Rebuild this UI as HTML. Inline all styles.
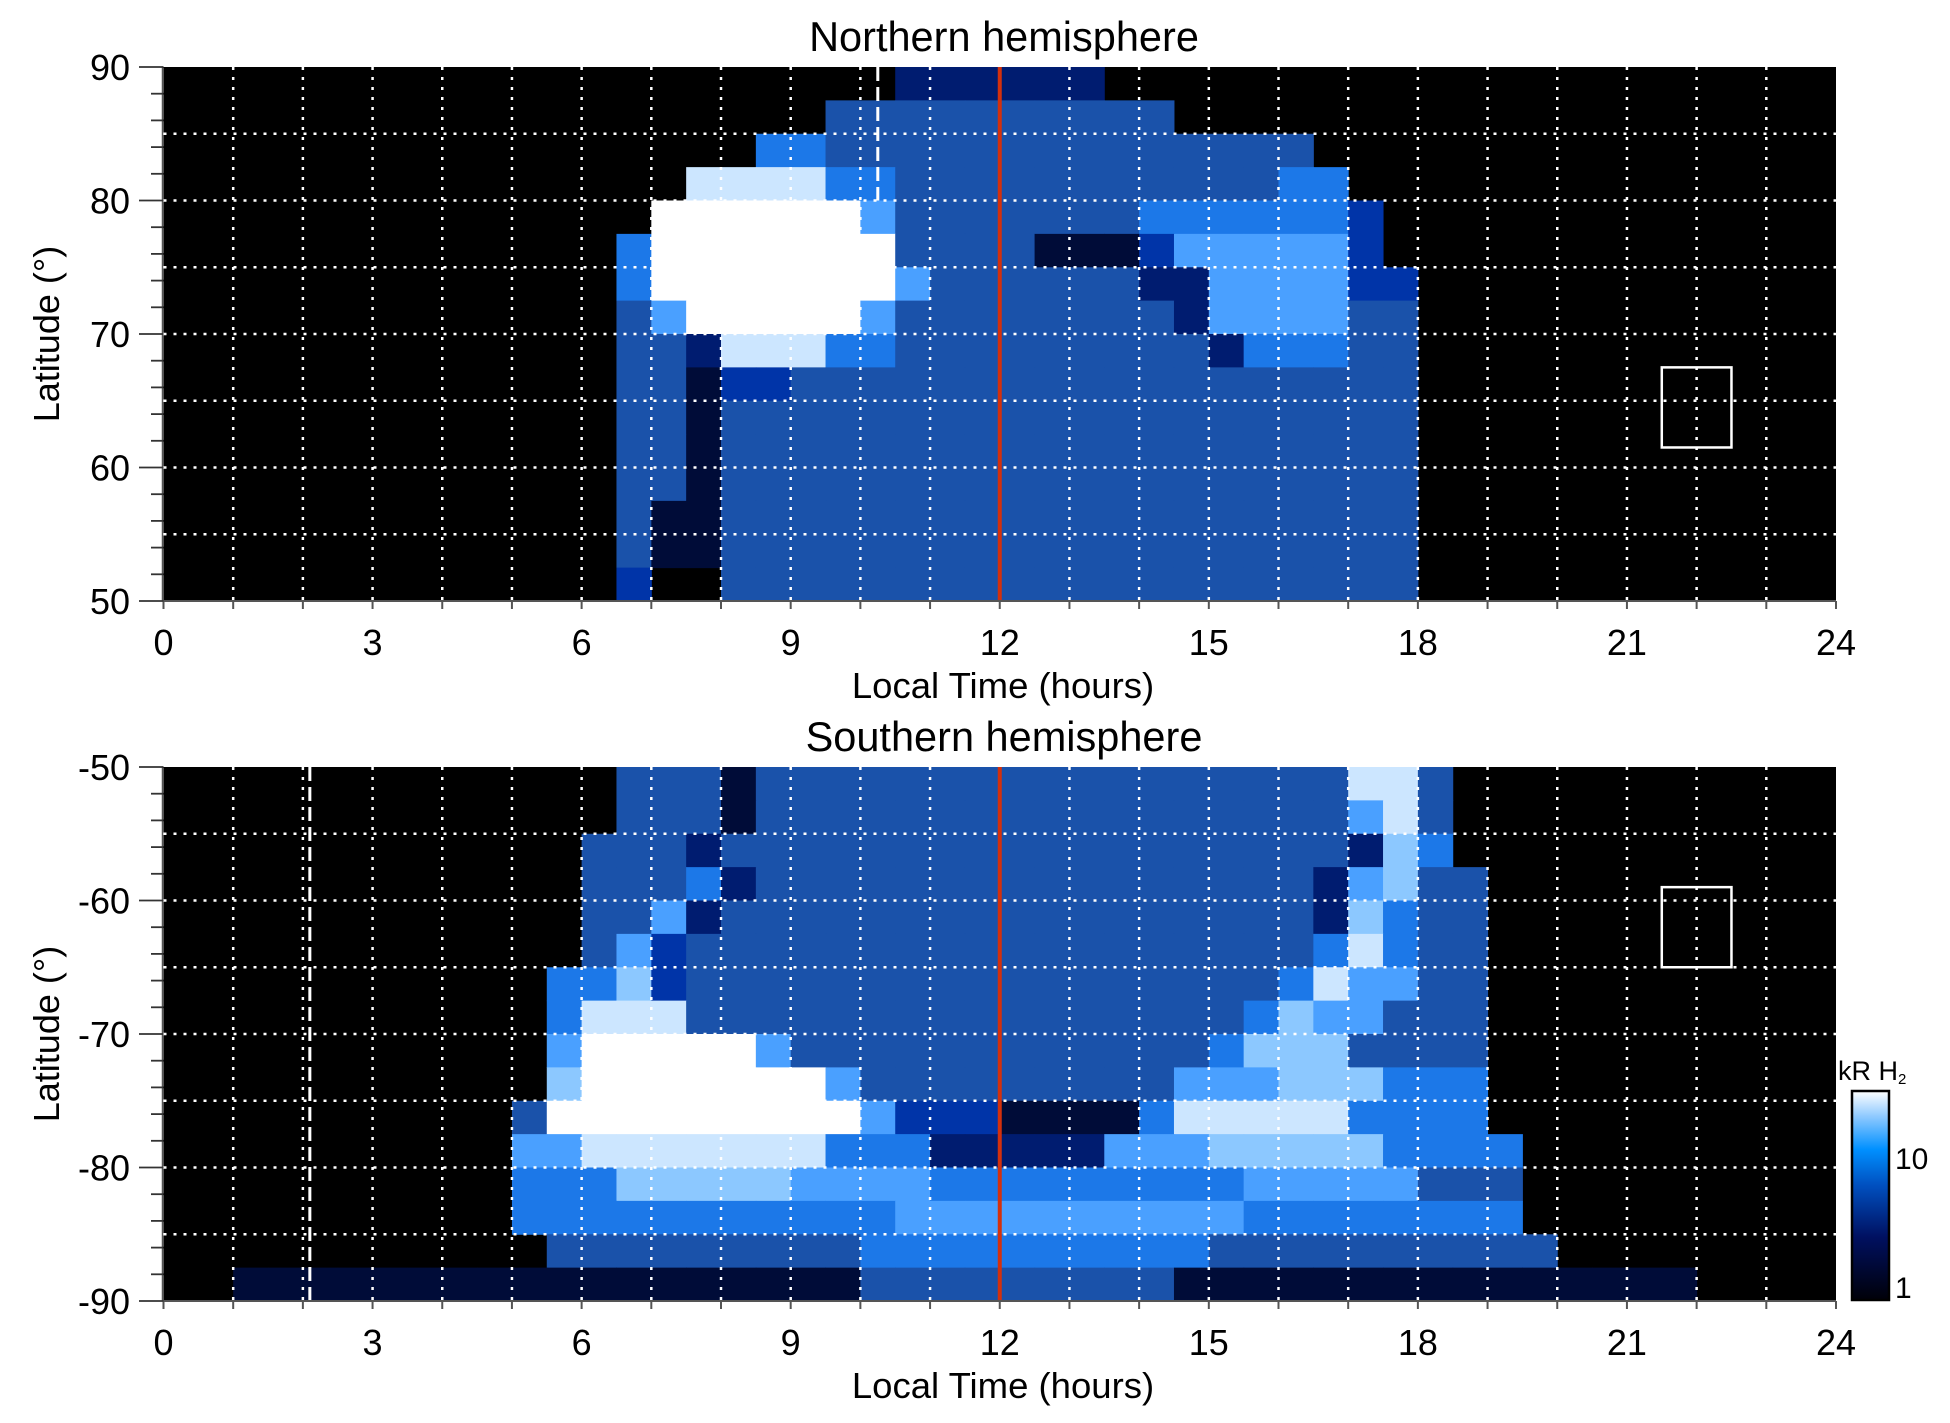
<!DOCTYPE html>
<html><head><meta charset="utf-8"><style>
html,body{margin:0;padding:0;background:#fff}
svg{display:block}
text{font-family:"Liberation Sans",sans-serif;fill:#000}
</style></head><body>
<svg id="chart" width="1950" height="1423" viewBox="0 0 1950 1423" xmlns="http://www.w3.org/2000/svg">
<defs>
<linearGradient id="cbg" x1="0" y1="1" x2="0" y2="0">
<stop offset="0" stop-color="#000008"/><stop offset="0.3" stop-color="#001060"/><stop offset="0.55" stop-color="#0050c0"/><stop offset="0.72" stop-color="#0090ff"/><stop offset="0.88" stop-color="#90caff"/><stop offset="1" stop-color="#ffffff"/>
</linearGradient>
</defs>
<g id="layer"></g>
</svg>
<script>
// Local-time columns are 0.5 h wide (index 0..47); rows are 2.5° bands.
// Each row: runs of [startCol, endCol, intensityLevel 0-9]
const northRows = [
 [[21,26,2]],
 [[19,28,4]],
 [[17,18,5],[19,32,4]],
 [[15,18,8],[19,20,5],[21,31,4],[32,33,5]],
 [[14,19,9],[20,20,6],[21,27,4],[28,33,5],[34,34,3]],
 [[13,13,5],[14,20,9],[21,24,4],[25,27,1],[28,28,3],[29,33,6],[34,34,3]],
 [[13,13,5],[14,20,9],[21,21,6],[22,27,4],[28,29,2],[30,33,6],[34,35,3]],
 [[13,13,4],[14,14,6],[15,19,9],[20,20,6],[21,28,4],[29,29,2],[30,33,6],[34,35,4]],
 [[13,14,4],[15,15,2],[16,18,8],[19,20,5],[21,29,4],[30,30,2],[31,33,5],[34,35,4]],
 [[13,14,4],[15,15,1],[16,17,3],[18,35,4]],
 [[13,14,4],[15,15,1],[16,35,4]],
 [[13,14,4],[15,15,1],[16,35,4]],
 [[13,14,4],[15,15,1],[16,35,4]],
 [[13,13,4],[14,15,1],[16,35,4]],
 [[13,13,4],[14,15,1],[16,35,4]],
 [[13,13,3],[14,15,0],[16,35,4]]
];
const southRows = [
 [[13,15,4],[16,16,1],[17,33,4],[34,35,8],[36,36,4]],
 [[13,15,4],[16,16,1],[17,33,4],[34,34,6],[35,35,8],[36,36,4]],
 [[12,14,4],[15,15,2],[16,33,4],[34,34,2],[35,35,7],[36,36,5]],
 [[12,14,4],[15,15,5],[16,16,2],[17,32,4],[33,33,2],[34,34,6],[35,35,7],[36,37,4]],
 [[12,13,4],[14,14,6],[15,15,2],[16,32,4],[33,33,2],[34,34,7],[35,35,5],[36,37,4]],
 [[12,12,4],[13,13,6],[14,14,3],[15,32,4],[33,33,5],[34,34,8],[35,35,5],[36,37,4]],
 [[11,12,5],[13,13,7],[14,14,3],[15,31,4],[32,32,5],[33,33,8],[34,35,6],[36,37,4]],
 [[11,11,5],[12,14,8],[15,30,4],[31,31,5],[32,32,7],[33,34,6],[35,37,4]],
 [[11,11,6],[12,16,9],[17,17,6],[18,29,4],[30,30,5],[31,33,7],[34,37,4]],
 [[11,11,7],[12,18,9],[19,19,6],[20,28,4],[29,31,6],[32,34,7],[35,37,5]],
 [[10,10,4],[11,19,9],[20,20,6],[21,23,3],[24,27,1],[28,28,5],[29,33,8],[34,37,5]],
 [[10,11,6],[12,18,8],[19,21,5],[22,26,2],[27,29,6],[30,34,7],[35,38,5]],
 [[10,12,5],[13,17,7],[18,21,6],[22,30,5],[31,35,6],[36,38,4]],
 [[10,20,5],[21,30,6],[31,38,5]],
 [[11,19,4],[20,29,5],[30,39,4]],
 [[2,19,1],[20,28,4],[29,43,1]]
];
const xTickLabels = ["0","3","6","9","12","15","18","21","24"];
const northYTicks = [90,80,70,60,50];
const southYTicks = [-50,-60,-70,-80,-90];
const cbTickLabels = ["10","1"];

const palette = ["#000000","#000c38","#001c70","#0034a8","#1a52aa","#1c78e8","#4aa0ff","#8cc8ff","#cce6ff","#ffffff"];
const NS = "http://www.w3.org/2000/svg";
const layer = document.getElementById('layer');
const X0 = 163.5, X1 = 1836;
function xs(h){ return X0 + (X1 - X0) * h / 24; }
function mk(tag, attrs, parent){
  const e = document.createElementNS(NS, tag);
  for (const k in attrs) e.setAttribute(k, attrs[k]);
  (parent || layer).appendChild(e);
  return e;
}
function panel(name, top, latTop, latBot, rows, yticks, title, extra){
  const bot = top + 534;
  const ys = lat => top + (bot - top) * (latTop - lat) / (latTop - latBot);
  const g = mk('g', {});
  
  
  const bg = mk('rect', {x:X0, y:top, width:X1-X0, height:bot-top, fill:'#000'}, g);
  
  
  const step = (latTop > latBot ? -2.5 : 2.5);
  rows.forEach((runs, r) => {
    const la = latTop + step * r, lb = latTop + step * (r + 1);
    runs.forEach(run => {
      for (let c = run[0]; c <= run[1]; c++) {
        if (run[2] === 0) continue;
        const cell = mk('rect', {x:xs(c/2), y:Math.min(ys(la),ys(lb)), width:xs((c+1)/2)-xs(c/2)+0.5, height:Math.abs(ys(lb)-ys(la))+0.5, fill:palette[run[2]]}, g);
        
        
      }
    });
  });
  for (let h = 1; h < 24; h++) {
    const l = mk('line', {x1:xs(h), x2:xs(h), y1:top, y2:bot, stroke:'#fff', 'stroke-width':2.5, 'stroke-dasharray':'3 7'}, g);
    
    
  }
  for (let i = 1; i < 8; i++) {
    const lat = latTop + (latBot - latTop) * i / 8;
    const l = mk('line', {x1:X0, x2:X1, y1:ys(lat), y2:ys(lat), stroke:'#fff', 'stroke-width':2.5, 'stroke-dasharray':'3 7'}, g);
    
    
  }
  extra(g, ys, top, bot);
  const red = mk('line', {x1:xs(12), x2:xs(12), y1:top, y2:bot, stroke:'#d4300c', 'stroke-width':4}, g);
  
  
  mk('line', {x1:X0-1, x2:X1, y1:bot, y2:bot, stroke:'#555', 'stroke-width':2}, g);
  mk('line', {x1:X0-1, x2:X0-1, y1:top, y2:bot, stroke:'#555', 'stroke-width':1.5}, g);
  for (let h = 0; h <= 24; h++) mk('line', {x1:xs(h), x2:xs(h), y1:bot, y2:bot+8, stroke:'#555', 'stroke-width':2}, g);
  const span = Math.abs(latTop - latBot);
  for (let d = 0; d <= span; d++) {
    const lat = latTop + (latBot > latTop ? d : -d);
    const major = d % 10 === 0;
    if (!major && d % 2 !== 0) continue;
    mk('line', {x1:major ? 139 : 151, x2:X0, y1:ys(lat), y2:ys(lat), stroke:'#333', 'stroke-width':1.8}, g);
  }
  yticks.forEach(v => {
    const t = mk('text', {x:130, y:ys(v)+13, 'text-anchor':'end', 'font-size':36}, g);
    t.textContent = v;
    
    
  });
  xTickLabels.forEach((s, i) => {
    const t = mk('text', {x:xs(i*3), y:bot+54, 'text-anchor':'middle', 'font-size':36}, g);
    t.textContent = s;
    
    
  });
  const xt = mk('text', {x:1003, y:bot+97, 'text-anchor':'middle', 'font-size':36.5}, g);
  xt.textContent = 'Local Time (hours)';
  
  
  const yt = mk('text', {x:0, y:0, 'text-anchor':'middle', 'font-size':36, transform:'translate(59,'+((top+bot)/2)+') rotate(-90)'}, g);
  yt.textContent = 'Latitude (°)';
  
  
  const tt = mk('text', {x:1004, y:top-16, 'text-anchor':'middle', 'font-size':41.5}, g);
  tt.textContent = title;
  
  
}
panel('north', 67, 90, 50, northRows, northYTicks, 'Northern hemisphere', (g, ys, top, bot) => {
  const d = mk('line', {x1:xs(10.25), x2:xs(10.25), y1:top, y2:ys(80), stroke:'#fff', 'stroke-width':3, 'stroke-dasharray':'14 6'}, g);
  
  
  const b = mk('rect', {x:xs(21.5), y:ys(67.5), width:xs(22.5)-xs(21.5), height:ys(61.5)-ys(67.5), fill:'none', stroke:'#fff', 'stroke-width':2.5}, g);
  
  
});
panel('south', 767, -50, -90, southRows, southYTicks, 'Southern hemisphere', (g, ys, top, bot) => {
  const d = mk('line', {x1:xs(2.1), x2:xs(2.1), y1:top, y2:bot, stroke:'#fff', 'stroke-width':3, 'stroke-dasharray':'14 6'}, g);
  
  
  const b = mk('rect', {x:xs(21.5), y:ys(-59), width:xs(22.5)-xs(21.5), height:ys(-65)-ys(-59), fill:'none', stroke:'#fff', 'stroke-width':2.5}, g);
  
  
});
const cb = mk('rect', {x:1852, y:1091, width:37, height:209, fill:'url(#cbg)', stroke:'#000', 'stroke-width':2.5});


const cbY = [1158, 1300];
cbTickLabels.forEach((s, i) => {
  const t = mk('text', {x:1895, y:cbY[i]-2+(i===0?13:0), 'font-size':30});
  t.textContent = s;
  
  
});
const cbt = mk('text', {x:1838, y:1080, 'font-size':27});
cbt.innerHTML = 'kR H<tspan font-size="15" dy="4">2</tspan>';


</script>
</body></html>
